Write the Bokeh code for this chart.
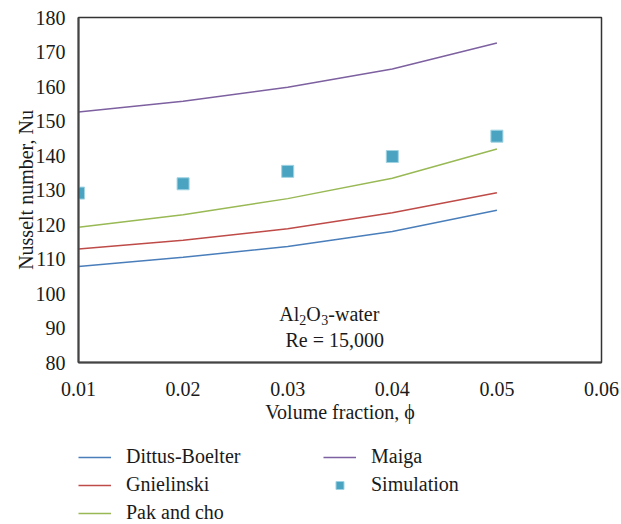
from bokeh.plotting import figure
from bokeh.models import Legend, LegendItem, Label, FixedTicker, Range1d
from bokeh.layouts import column
from bokeh.embed import file_html
from bokeh.resources import INLINE

# Volume fraction (phi) and Nusselt number correlations, Al2O3-water, Re = 15,000
phi = [0.01, 0.02, 0.03, 0.04, 0.05]
dittus_boelter = [107.8, 110.5, 113.6, 118.0, 124.1]
gnielinski = [112.9, 115.4, 118.8, 123.4, 129.2]
pak_and_cho = [119.2, 122.8, 127.5, 133.4, 141.9]
maiga = [152.6, 155.7, 159.8, 165.1, 172.6]
simulation = [129.1, 131.8, 135.4, 139.7, 145.6]

x_ticks = [0.01, 0.02, 0.03, 0.04, 0.05, 0.06]
y_ticks = [80, 90, 100, 110, 120, 130, 140, 150, 160, 170, 180]

FONT = "'Liberation Serif', serif"
TXT = "#1a1a1a"
FS = "20px"

SERIES = [
    ("Dittus-Boelter", dittus_boelter, "#4a7ebb"),
    ("Gnielinski", gnielinski, "#be4b48"),
    ("Pak and cho", pak_and_cho, "#98b954"),
    ("Maiga", maiga, "#7d60a0"),
]
SIM_STYLE = dict(marker="square", fill_color="#4aa3c0",
                 line_color="#9fd3e3", line_width=1)

# ---- main chart ----
p = figure(width=621, height=430, output_backend="svg", toolbar_location=None,
           x_range=Range1d(0.01, 0.06), y_range=Range1d(80, 180),
           min_border_left=78, min_border_right=20, min_border_top=17,
           min_border_bottom=68)
p.background_fill_color = "white"
p.border_fill_color = "white"
p.grid.visible = False
p.outline_line_color = "#333333"
p.outline_line_width = 1.5

for ax in (p.xaxis[0], p.yaxis[0]):
    ax.axis_line_color = "#444444"
    ax.axis_line_width = 2
    ax.major_tick_line_color = None
    ax.minor_tick_line_color = None
    ax.major_label_text_font = FONT
    ax.major_label_text_font_size = FS
    ax.major_label_text_color = TXT
    ax.axis_label_text_font = FONT
    ax.axis_label_text_font_size = FS
    ax.axis_label_text_font_style = "normal"
    ax.axis_label_text_color = TXT

p.xaxis.ticker = FixedTicker(ticks=x_ticks)
p.xaxis.major_label_overrides = {t: f"{t:.2f}" for t in x_ticks}
p.yaxis.ticker = FixedTicker(ticks=y_ticks)
p.xaxis.major_label_standoff = 13
p.yaxis.major_label_standoff = 7
p.xaxis.axis_label = "Volume fraction, ϕ"
p.yaxis.axis_label = "Nusselt number, Nu"
p.xaxis.axis_label_standoff = 2
p.yaxis.axis_label_standoff = -4

for name, ys, color in SERIES:
    p.line(phi, ys, line_color=color, line_width=1.5)
p.scatter(phi, simulation, size=12, **SIM_STYLE)

# Annotation: Al2O3-water / Re = 15,000
ax0, ay0 = 0.0292, 94.2
parts = [("Al", 0, 20, 0), ("2", 20, 14, -6), ("O", 27, 20, 0),
         ("3", 42, 14, -6), ("-water", 49, 20, 0)]
for txt, dx, fs, dy in parts:
    p.add_layout(Label(x=ax0, y=ay0, text=txt, x_offset=dx, y_offset=dy,
                       text_font=FONT, text_font_size=f"{fs}px",
                       text_color=TXT, text_baseline="middle",
                       text_align="left"))
p.add_layout(Label(x=0.0345, y=86.4, text="Re = 15,000", text_font=FONT,
                   text_font_size=FS, text_color=TXT,
                   text_baseline="middle", text_align="center"))

# ---- legend strip underneath (series kept outside its visible range) ----
lg = figure(width=621, height=94, output_backend="svg", toolbar_location=None,
            x_range=Range1d(10, 11), y_range=Range1d(1000, 1001),
            x_axis_location=None, y_axis_location=None,
            min_border=0, outline_line_color=None)
lg.grid.visible = False
items = []
for name, ys, color in SERIES:
    r = lg.line(phi, ys, line_color=color, line_width=1.5)
    items.append(LegendItem(label=name, renderers=[r]))
r = lg.scatter(phi, simulation, size=15, **SIM_STYLE)
items.append(LegendItem(label="Simulation", renderers=[r]))

legend = Legend(items=items, location=(0, 0), orientation="vertical",
                nrows=3, padding=0, margin=0, spacing=5,
                glyph_width=33, glyph_height=20, label_height=20,
                label_width=192, label_standoff=15,
                border_line_color=None, background_fill_alpha=0,
                label_text_font=FONT, label_text_font_size=FS,
                label_text_color=TXT)
lg.add_layout(legend, "center")

open("out.html", "w").write(file_html(column(p, lg, spacing=0), INLINE))
